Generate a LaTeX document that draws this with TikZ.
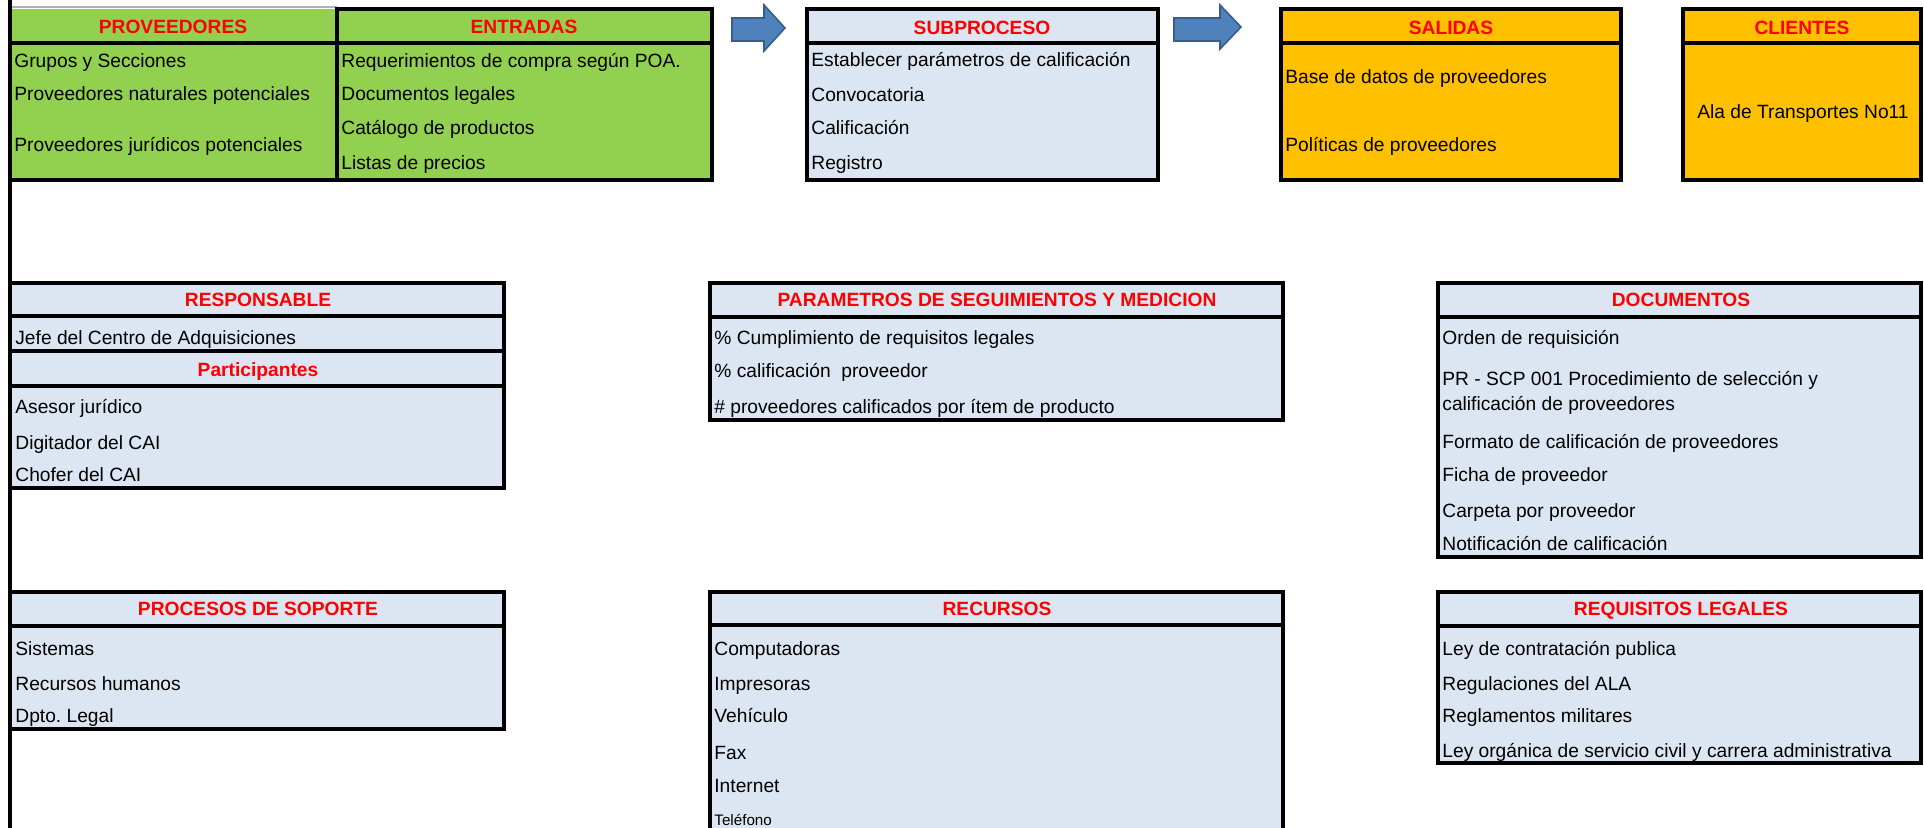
\documentclass[tikz,border=0pt]{standalone}
\usepackage{fontspec}
\setmainfont{Liberation Sans}
\frenchspacing
\definecolor{verde}{HTML}{92D050}
\definecolor{naranja}{HTML}{FFC000}
\definecolor{celeste}{HTML}{DCE6F2}
\definecolor{rojo}{HTML}{FF0000}
\definecolor{flecha}{HTML}{4F81BD}
\definecolor{flechaborde}{HTML}{385D8A}
\begin{document}
\begin{tikzpicture}[x=0.5pt,y=-0.5pt,
  box/.style={line width=1.9pt,draw=black},
  item/.style={anchor=base west,inner sep=0pt,font=\fontsize{9.6}{11.5}\selectfont,text=black},
  small item/.style={anchor=base west,inner sep=0pt,font=\fontsize{7.6}{9}\selectfont,text=black},
  citem/.style={anchor=base,inner sep=0pt,font=\fontsize{9.6}{11.5}\selectfont,text=black},
  title/.style={anchor=base,inner sep=0pt,font=\fontsize{9.6}{11.5}\selectfont\bfseries,text=rojo},
  blockarrow/.style={fill=flecha,draw=flechaborde,line width=0.8pt}]
\useasboundingbox[fill=white] (0,0) rectangle (1924,828);
\begin{scope}
\clip (0,0) rectangle (1924,828);
% ---------- top row ----------
\draw[gray!60,line width=0.8pt] (10,7) -- (337,7);
\fill[verde] (10,9) rectangle (337,180);
\draw[box] (10,43) -- (337,43);
\draw[box] (10,180) -- (337,180);
\filldraw[box,fill=verde] (337,9) rectangle (712,180);
\draw[box] (337,43) -- (712,43);
\node[title] (tprov) at (173,27+7) {PROVEEDORES};
\node[item] (p1) at (14,61+7) {Grupos y Secciones};
\node[item] (p2) at (14,94+7) {Proveedores naturales potenciales};
\node[item] (p3) at (14,145+7) {Proveedores jurídicos potenciales};
\node[title] (tent) at (524,27+7) {ENTRADAS};
\node[item] (e1) at (341,61+7) {Requerimientos de compra según POA.};
\node[item] (e2) at (341,94+7) {Documentos legales};
\node[item] (e3) at (341,128+7) {Catálogo de productos};
\node[item] (e4) at (341,163+7) {Listas de precios};
% arrow 1
\filldraw[blockarrow] (732,18) -- (764,18) -- (764,5) -- (785,28) -- (764,51) -- (764,41) -- (732,41) -- cycle;
% subproceso
\filldraw[box,fill=celeste] (807,9) rectangle (1158,180);
\draw[box] (807,43) -- (1158,43);
\node[title] (tsub) at (982,28+7) {SUBPROCESO};
\node[item] (s1) at (811,60+7) {Establecer parámetros de calificación};
\node[item] (s2) at (811,95+7) {Convocatoria};
\node[item] (s3) at (811,128+7) {Calificación};
\node[item] (s4) at (811,163+7) {Registro};
% arrow 2
\filldraw[blockarrow] (1174,18) -- (1220,18) -- (1220,5) -- (1241,27) -- (1220,49) -- (1220,41) -- (1174,41) -- cycle;
% salidas
\filldraw[box,fill=naranja] (1281,9) rectangle (1621,180);
\draw[box] (1281,43) -- (1621,43);
\node[title] (tsal) at (1451,28+7) {SALIDAS};
\node[item] (sa1) at (1285,77+7) {Base de datos de proveedores};
\node[item] (sa2) at (1285,145+7) {Políticas de proveedores};
% clientes
\filldraw[box,fill=naranja] (1683,9) rectangle (1921,180);
\draw[box] (1683,43) -- (1921,43);
\node[title] (tcli) at (1802,28+7) {CLIENTES};
\node[citem] (c1) at (1803,112+7) {Ala de Transportes No11};
% ---------- middle row ----------
\filldraw[box,fill=celeste] (10,283) rectangle (504,488);
\draw[box] (10,316) -- (504,316);
\draw[box] (10,351) -- (504,351);
\draw[box] (10,386) -- (504,386);
\node[title] (tresp) at (258,300+7) {RESPONSABLE};
\node[item] (r1) at (15,338+7) {Jefe del Centro de Adquisiciones};
\node[title] (tpart) at (258,370+7) {Participantes};
\node[item] (r2) at (15,407+7) {Asesor jurídico};
\node[item] (r3) at (15,443+7) {Digitador del CAI};
\node[item] (r4) at (15,475+7) {Chofer del CAI};
\filldraw[box,fill=celeste] (710,283) rectangle (1283,420);
\draw[box] (710,317) -- (1283,317);
\node[title] (tpar) at (997,300+7) {PARAMETROS DE SEGUIMIENTOS Y MEDICION};
\node[item] (m1) at (714,338+7) {\% Cumplimiento de requisitos legales};
\node[item] (m2) at (714,371+7) {\% calificación\ \ proveedor};
\node[item] (m3) at (714,407+7) {\# proveedores calificados por ítem de producto};
\filldraw[box,fill=celeste] (1438,283) rectangle (1921,557);
\draw[box] (1438,317) -- (1921,317);
\node[title] (tdoc) at (1681,300+7) {DOCUMENTOS};
\node[item] (d1) at (1442,338+7) {Orden de requisición};
\node[item] (d2) at (1442,379+7) {PR - SCP 001 Procedimiento de selección y};
\node[item] (d2b) at (1442,404+7) {calificación de proveedores};
\node[item] (d3) at (1442,442+7) {Formato de calificación de proveedores};
\node[item] (d4) at (1442,475+7) {Ficha de proveedor};
\node[item] (d5) at (1442,511+7) {Carpeta por proveedor};
\node[item] (d6) at (1442,544+7) {Notificación de calificación};
% ---------- bottom row ----------
\filldraw[box,fill=celeste] (10,592) rectangle (504,729);
\draw[box] (10,626) -- (504,626);
\node[title] (tproc) at (258,609+7) {PROCESOS DE SOPORTE};
\node[item] (ps1) at (15,648+7) {Sistemas};
\node[item] (ps2) at (15,683+7) {Recursos humanos};
\node[item] (ps3) at (15,715+7) {Dpto. Legal};
\filldraw[box,fill=celeste] (710,592) rectangle (1283,845);
\draw[box] (710,625) -- (1283,625);
\node[title] (trec) at (997,609+7) {RECURSOS};
\node[item] (rc1) at (714,648+7) {Computadoras};
\node[item] (rc2) at (714,683+7) {Impresoras};
\node[item] (rc3) at (714,715+7) {Vehículo};
\node[item] (rc4) at (714,752+7) {Fax};
\node[item] (rc5) at (714,785+7) {Internet};
\node[small item] (rc6) at (714,820+5.5) {Teléfono};
\filldraw[box,fill=celeste] (1438,592) rectangle (1921,763);
\draw[box] (1438,626) -- (1921,626);
\node[title] (treq) at (1681,609+7) {REQUISITOS LEGALES};
\node[item] (q1) at (1442,648+7) {Ley de contratación publica};
\node[item] (q2) at (1442,683+7) {Regulaciones del ALA};
\node[item] (q3) at (1442,715+7) {Reglamentos militares};
\node[item] (q4) at (1442,750+7) {Ley orgánica de servicio civil y carrera administrativa};
% page left line
\draw[line width=1.9pt] (10,0) -- (10,830);
\end{scope}
\end{tikzpicture}
\end{document}
